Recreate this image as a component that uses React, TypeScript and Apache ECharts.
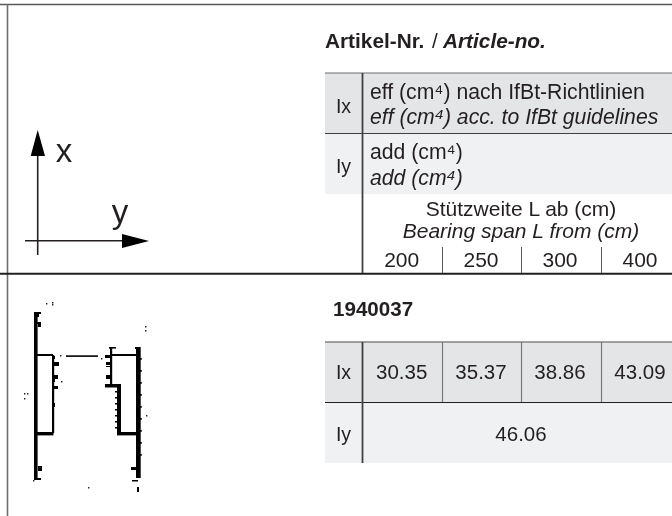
import React, { useEffect, useRef } from "react";
import * as echarts from "echarts";

const FONT = '"Liberation Sans", Arial, sans-serif';
const INK = "#231f20";
const ROW_X = "#e4e5e7";
const ROW_Y = "#f0f1f3";

const spanLabels = ["200", "250", "300", "400"];
const ixValues = ["30.35", "35.37", "38.86", "43.09"];
const iyValue = "46.06";
const articleNo = "1940037";
const spanX = [401.7, 481, 560, 640];
const dividers = [442, 521, 601];

// Profile cross-section pieces: [x, y, w, h]
const profileBars = [
  [34, 312, 3.6, 168],
  [34, 312, 7, 2], [37, 313, 2, 4], [37, 322, 4, 2], [38, 324, 3, 3],
  [37, 354, 16, 2], [52, 355, 2.2, 78], [37, 432, 16.5, 3.4],
  [53, 356, 2, 3], [53, 362, 6, 4], [53, 375, 5, 4], [53, 379, 2, 3], [53, 386, 5, 3], [53, 403, 2, 4],
  [38, 466, 4, 5], [37, 478, 4, 2], [66, 355.3, 32, 1.6],
  [110, 347, 2.2, 38], [109, 347, 7, 1.6], [105, 355, 6, 3], [106, 362, 5, 3], [106, 366, 5, 1],
  [106, 375, 5, 4], [105, 384, 16, 3.5], [111, 354, 26, 2],
  [117, 387, 4, 48], [117, 432, 20, 3.4], [115, 391, 2, 1.4], [115, 397, 2, 1.4], [115, 403, 2, 1.4], [115, 409, 2, 1.4],
  [115, 415, 2, 1.4], [115, 421, 2, 1.4], [115, 427, 2, 1.4],
  [136, 347, 4.7, 131], [135, 347, 5, 2], [140, 358, 1.8, 1.8], [140, 370, 1.8, 1.8], [140, 382, 1.8, 1.8],
  [140, 394, 1.8, 1.8], [140, 406, 1.8, 1.8], [140, 418, 1.8, 1.8], [140, 430, 1.8, 1.8], [140, 442, 1.8, 1.8],
  [140, 454, 1.8, 1.8], [131, 467, 5, 3], [132, 480, 6, 1.5], [137, 487, 2, 5],
];
const profileDots = [
  [46, 303], [52, 302], [52, 304], [145, 326], [145, 330], [24, 393], [27, 393], [24, 398], [146, 415], [88, 487], [33, 480], [60, 355], [101, 358], [61, 381],
];

function text(t: string, x: number, y: number, size: number, opts: any = {}) {
  return {
    type: "text",
    x,
    y,
    silent: true,
    style: {
      text: t,
      fill: INK,
      font: `${opts.italic ? "italic " : ""}${opts.bold ? "bold " : ""}${size}px ${FONT}`,
      textAlign: opts.align ?? "center",
      textVerticalAlign: "middle",
    },
  };
}
const box = (x: number, y: number, w: number, h: number, fill: string) => ({
  type: "rect",
  silent: true,
  shape: { x, y, width: w, height: h },
  style: { fill },
});
const seg = (x1: number, y1: number, x2: number, y2: number, stroke: string, lineWidth: number) => ({
  type: "line",
  silent: true,
  shape: { x1, y1, x2, y2 },
  style: { stroke, lineWidth },
});

export default function App() {
  const ref = useRef<HTMLDivElement>(null);
  useEffect(() => {
    const chart = echarts.init(ref.current!, undefined, { renderer: "svg" });
    const elements: any[] = [
      box(0, 0, 672, 516, "#ffffff"),
      // backgrounds
      box(325, 73, 347, 61, ROW_X),
      box(325, 134, 347, 60, ROW_Y),
      box(325, 342, 347, 60, ROW_X),
      box(325, 402, 347, 61, ROW_Y),
      // frame
      seg(0, 4.5, 672, 4.5, "#58595b", 1.5),
      seg(7.5, 4, 7.5, 516, "#6d6e71", 1.6),
      seg(0, 273.7, 672, 273.7, INK, 2),
      // upper table
      seg(325, 73, 672, 73, "#6d6e71", 1.2),
      seg(325, 133.5, 672, 133.5, "#414042", 1.2),
      seg(362.5, 73, 362.5, 273, "#414042", 1.8),
      ...dividers.map((x) => seg(x + 0.5, 247, x + 0.5, 273, "#58595b", 1)),
      // lower table
      seg(325, 342, 672, 342, "#808285", 1.6),
      seg(325, 402.5, 672, 402.5, INK, 1),
      seg(362.5, 342, 362.5, 463, "#414042", 1.8),
      ...dividers.map((x) => seg(x + 0.5, 342, x + 0.5, 402, "#77787b", 1.2)),
      // axes sketch
      seg(37.7, 150, 37.7, 255, INK, 1.6),
      seg(25, 240.7, 125, 240.7, INK, 1.6),
      { type: "polygon", silent: true, shape: { points: [[37.7, 130], [45, 156], [30.7, 156]] }, style: { fill: "#000" } },
      { type: "polygon", silent: true, shape: { points: [[149, 241], [122, 234], [122, 248]] }, style: { fill: "#000" } },
      text("x", 64, 150.5, 33),
      text("y", 120, 211.5, 33),
      // profile
      ...profileBars.map(([x, y, w, h]) => box(x, y, w, h, "#000")),
      ...profileDots.map(([x, y]) => box(x, y, 1.4, 1.4, "#222")),
      // texts
      text("Artikel-Nr.", 325, 40.5, 20.8, { bold: true, align: "left" }),
      text("/", 432, 40.5, 20.8, { align: "left" }),
      text("Article-no.", 443, 40.5, 20.8, { bold: true, italic: true, align: "left" }),
      text("Ix", 343.5, 105.5, 19.5),
      text("eff (cm⁴) nach IfBt-Richtlinien", 370, 91.5, 21.2, { align: "left" }),
      text("eff (cm⁴) acc. to IfBt guidelines", 370, 116.5, 21.2, { italic: true, align: "left" }),
      text("Iy", 343.5, 165.5, 19.5),
      text("add (cm⁴)", 370, 151.5, 21.2, { align: "left" }),
      text("add (cm⁴)", 370, 177.5, 21.2, { italic: true, align: "left" }),
      text("Stützweite L ab (cm)", 521, 208.9, 21),
      text("Bearing span L from (cm)", 521, 230.2, 21, { italic: true }),
      ...spanLabels.map((t, i) => text(t, spanX[i], 259.5, 21)),
      text(articleNo, 333, 308.5, 20.6, { bold: true, align: "left" }),
      text("Ix", 343.5, 371.5, 19.5),
      ...ixValues.map((t, i) => text(t, spanX[i], 371.5, 20.5)),
      text("Iy", 343.5, 433.5, 19.5),
      text(iyValue, 521, 433.5, 20.5),
    ];
    chart.setOption({ animation: false, graphic: { elements } });
    return () => chart.dispose();
  }, []);
  return <div ref={ref} style={{ position: "fixed", left: 0, top: 0, width: 672, height: 516 }} />;
}
